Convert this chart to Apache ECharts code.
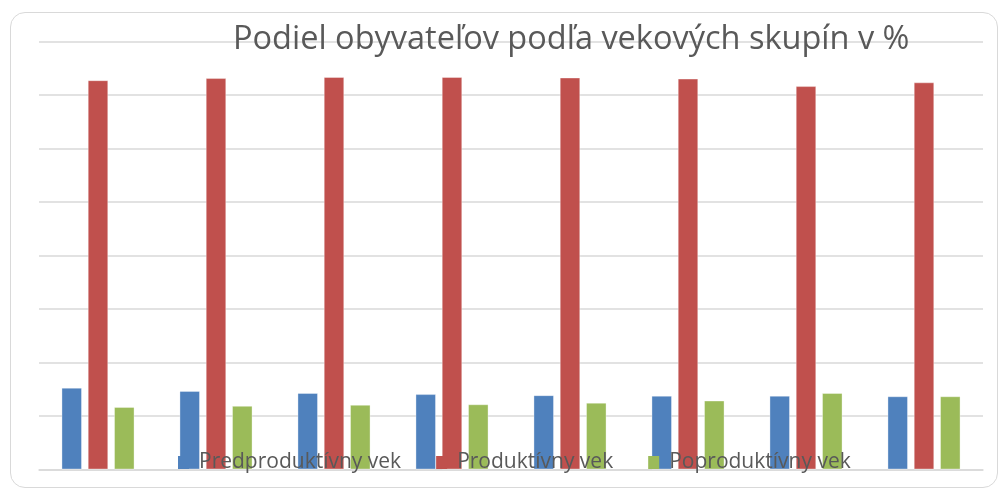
<!DOCTYPE html>
<html>
<head>
<meta charset="utf-8">
<script src="https://cdn.jsdelivr.net/npm/echarts@6/dist/echarts.min.js"></script>
<style>
  html, body { margin: 0; padding: 0; background: #fff; }
  #frame { position: absolute; left: 10px; top: 12px; width: 986px; height: 474px; border: 1.5px solid #d9d9d9; border-radius: 15px; }
  #chart { position: absolute; left: 0; top: 0; width: 1001px; height: 492px; }
</style>
</head>
<body>
<div id="frame"></div>
<div id="chart"></div>
<script>
// Podiel obyvateľov podľa vekových skupín (v %)
const categories = ['1', '2', '3', '4', '5', '6', '7', '8'];
const predproduktivny = [15.3, 14.7, 14.3, 14.1, 13.9, 13.8, 13.8, 13.7];
const produktivny = [72.8, 73.2, 73.4, 73.4, 73.3, 73.1, 71.7, 72.4];
const poproduktivny = [11.7, 11.9, 12.1, 12.2, 12.5, 12.9, 14.3, 13.7];
const seriesNames = ['Predproduktívny vek', 'Produktívny vek', 'Poproduktívny vek'];
const colors = ['#4F81BD', '#C0504D', '#9BBB59'];

const chart = echarts.init(document.getElementById('chart'));
const barBorder = { borderColor: 'rgba(255,255,255,0.35)', borderWidth: 1 };

chart.setOption({
  animation: false,
  color: colors,
  title: {
    text: 'Podiel obyvateľov podľa vekových skupín v %',
    left: 228, top: 18,
    textStyle: { fontFamily: 'Open Sans', fontWeight: 'normal', fontSize: 32.5, color: '#595959' }
  },
  legend: {
    data: seriesNames,
    left: 173, top: 447,
    itemWidth: 11, itemHeight: 13, itemGap: 35,
    icon: 'rect',
    itemStyle: { borderWidth: 0 },
    textStyle: { fontFamily: 'Open Sans', fontSize: 21, color: '#595959', padding: [0, 0, 0, 5] }
  },
  grid: { left: 39, right: 18, top: 41.7, bottom: 22.5 },
  xAxis: {
    type: 'category',
    data: categories,
    axisLine: { show: true, lineStyle: { color: '#d9d9d9', width: 1.5 } },
    axisTick: { show: false },
    axisLabel: { show: false }
  },
  yAxis: {
    type: 'value',
    min: 0, max: 80, interval: 10,
    axisLine: { show: false },
    axisTick: { show: false },
    axisLabel: { show: false },
    splitLine: { lineStyle: { color: '#d9d9d9', width: 1.5 } }
  },
  series: [
    { name: seriesNames[0], type: 'bar', data: predproduktivny, barWidth: '17.4%', barGap: '28%', itemStyle: barBorder },
    { name: seriesNames[1], type: 'bar', data: produktivny, barWidth: '17.4%', barGap: '28%', itemStyle: barBorder },
    { name: seriesNames[2], type: 'bar', data: poproduktivny, barWidth: '17.4%', barGap: '28%', itemStyle: barBorder }
  ]
});
</script>
</body>
</html>
